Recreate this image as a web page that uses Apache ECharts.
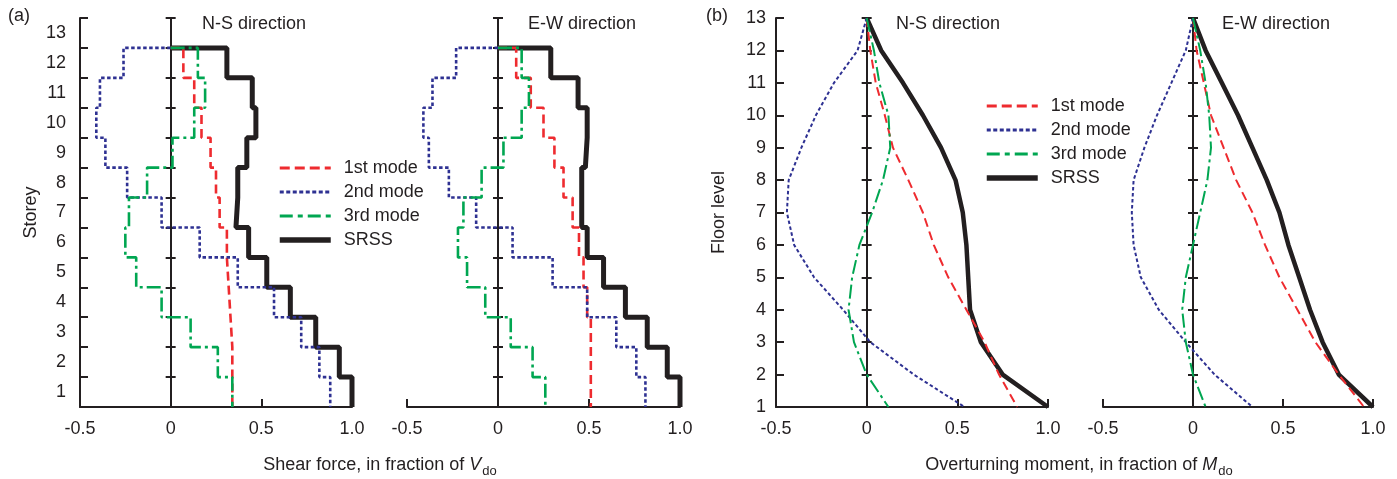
<!DOCTYPE html>
<html>
<head>
<meta charset="utf-8">
<script src="https://cdn.jsdelivr.net/npm/echarts@6/dist/echarts.min.js"></script>
<style>
  html, body { margin: 0; padding: 0; background: #fff; }
  #chart { width: 1397px; height: 479px; }
</style>
</head>
<body>
<div id="chart"></div>
<script>
// storey shear, listed from storey 12 (top) down to storey 1
const storeyLabels = ['1','2','3','4','5','6','7','8','9','10','11','12','13']
const shearNS1 = [0.07, 0.13, 0.17, 0.22, 0.25, 0.27, 0.31, 0.32, 0.33, 0.34, 0.34, 0.34]
const shearNS2 = [-0.26, -0.39, -0.41, -0.36, -0.24, -0.05, 0.16, 0.37, 0.57, 0.72, 0.82, 0.88]
const shearNS3 = [0.15, 0.19, 0.13, 0.01, -0.13, -0.23, -0.25, -0.19, -0.05, 0.11, 0.26, 0.34]
const shearNSsrss = [0.31, 0.45, 0.47, 0.42, 0.37, 0.36, 0.43, 0.53, 0.66, 0.80, 0.93, 1.0]

const shearEW1 = [0.10, 0.18, 0.25, 0.31, 0.36, 0.41, 0.445, 0.47, 0.49, 0.51, 0.51, 0.51]
const shearEW2 = [-0.23, -0.36, -0.41, -0.38, -0.27, -0.12, 0.08, 0.30, 0.49, 0.65, 0.76, 0.81]
const shearEW3 = [0.13, 0.17, 0.13, 0.03, -0.09, -0.19, -0.22, -0.17, -0.07, 0.07, 0.19, 0.26]
const shearEWsrss = [0.29, 0.44, 0.49, 0.48, 0.46, 0.46, 0.49, 0.58, 0.70, 0.82, 0.93, 1.0]

// overturning moment, floor 13 down to floor 1
const floors = [13, 12, 11, 10, 9, 8, 7, 6, 5, 4, 3, 2, 1]
const momNS1 = [0, 0.02, 0.05, 0.10, 0.145, 0.23, 0.31, 0.37, 0.45, 0.55, 0.65, 0.73, 0.83]
const momNS2 = [0, -0.05, -0.18, -0.28, -0.36, -0.43, -0.44, -0.40, -0.29, -0.13, 0.02, 0.26, 0.54]
const momNS3 = [0, 0.04, 0.07, 0.12, 0.13, 0.09, 0.03, -0.04, -0.08, -0.10, -0.07, 0.0, 0.12]
const momNSsrss = [0, 0.08, 0.20, 0.31, 0.41, 0.49, 0.53, 0.55, 0.56, 0.57, 0.63, 0.75, 1.0]

const momEW1 = [0, 0.02, 0.06, 0.10, 0.17, 0.24, 0.33, 0.40, 0.48, 0.58, 0.68, 0.81, 0.95]
const momEW2 = [0, -0.04, -0.12, -0.20, -0.27, -0.33, -0.34, -0.33, -0.29, -0.19, -0.04, 0.12, 0.33]
const momEW3 = [0, 0.04, 0.07, 0.09, 0.10, 0.08, 0.04, 0.0, -0.04, -0.06, -0.04, 0.0, 0.07]
const momEWsrss = [0, 0.07, 0.16, 0.25, 0.33, 0.41, 0.48, 0.53, 0.59, 0.65, 0.72, 0.81, 1.0]

const xTicks = [-0.5, 0, 0.5, 1.0]

const ink = '#231f20'
const red = '#ee2b2f'
const blue = '#2e3192'
const green = '#00a651'
const font = 'Liberation Sans, Arial, sans-serif'
const names = ['1st mode', '2nd mode', '3rd mode', 'SRSS']

// step outline of a storey-shear profile
function stepPath(vals) {
    const top = vals.length
    const pts = [[0, top]]
    vals.forEach((v, i) => {
        pts.push([v, top - i], [v, top - i - 1])
    })
    return pts
}

function profile(vals) {
    return vals.map((v, i) => [v, floors[i]])
}

const grids = [
    { left: 80, top: 18, width: 272, height: 389 },
    { left: 407, top: 18, width: 273, height: 389 },
    { left: 776, top: 18, width: 272, height: 389 },
    { left: 1103, top: 18, width: 270, height: 389 },
].map((g) => Object.assign({ outerBoundsMode: 'none' }, g))

const xAxes = grids.map((g, i) => ({
    type: 'value', gridIndex: i, position: 'bottom', min: -0.5, max: 1, interval: 0.5,
    splitLine: { show: false },
    axisLine: { onZero: false, lineStyle: { color: ink, width: 2 } },
    axisTick: { inside: true, length: 8, lineStyle: { color: ink, width: 2 } },
    axisLabel: {
        color: ink, fontSize: 18, fontFamily: font, margin: 13,
        formatter: (v) => xTicks.indexOf(v) < 0 ? '' : (v === 0 ? '0' : v.toFixed(1)),
    },
}))

function valueY(grid, min, opts) {
    return Object.assign({
        type: 'value', gridIndex: grid, position: 'left', min: min, max: 13, interval: 1,
        splitLine: { show: false },
        axisLabel: { show: false },
        axisLine: { onZero: false, lineStyle: { color: ink, width: 2 } },
        axisTick: { inside: true, length: 8, lineStyle: { color: ink, width: 2 } },
    }, opts)
}

function zeroY(grid, min, inside) {
    return valueY(grid, min, {
        axisLine: { onZero: true, onZeroAxisIndex: grid, lineStyle: { color: ink, width: 2 } },
        axisTick: { inside: inside, length: 5, lineStyle: { color: ink, width: 2 } },
    })
}

const yAxes = []
const seriesY = []
// panel (a) N-S
seriesY.push(yAxes.length)
yAxes.push(valueY(0, 0))
yAxes.push({
    type: 'category', gridIndex: 0, position: 'left', data: storeyLabels,
    axisLine: { show: false, onZero: false }, axisTick: { show: false }, splitLine: { show: false },
    axisLabel: { color: ink, fontSize: 18, fontFamily: font, margin: 14 },
    name: 'Storey', nameLocation: 'middle', nameGap: 40, nameRotate: 90,
    nameTextStyle: { color: ink, fontSize: 18, fontFamily: font },
})
yAxes.push(zeroY(0, 0, true), zeroY(0, 0, false))
// panel (a) E-W
seriesY.push(yAxes.length)
yAxes.push(zeroY(1, 0, true), zeroY(1, 0, false))
// panel (b) N-S
seriesY.push(yAxes.length)
yAxes.push(valueY(2, 1, {
    axisLabel: { color: ink, fontSize: 18, fontFamily: font, margin: 10 },
    name: 'Floor level', nameLocation: 'middle', nameGap: 48, nameRotate: 90,
    nameTextStyle: { color: ink, fontSize: 18, fontFamily: font },
}))
yAxes.push(zeroY(2, 1, true), zeroY(2, 1, false))
// panel (b) E-W
seriesY.push(yAxes.length)
yAxes.push(zeroY(3, 1, true), zeroY(3, 1, false))

function styles(thick) {
    const w = thick ? 2.6 : 2
    return [
        { color: red, width: w, type: [9, 5] },
        { color: blue, width: w, type: [3.5, 2.5] },
        { color: green, width: w, type: [14, 4, 3, 4] },
        { color: ink, width: thick ? 5 : 4.5, type: 'solid' },
    ]
}

const panels = [
    { data: [shearNS1, shearNS2, shearNS3, shearNSsrss].map(stepPath), thick: true },
    { data: [shearEW1, shearEW2, shearEW3, shearEWsrss].map(stepPath), thick: true },
    { data: [momNS1, momNS2, momNS3, momNSsrss].map(profile), thick: false },
    { data: [momEW1, momEW2, momEW3, momEWsrss].map(profile), thick: false },
]

const series = []
panels.forEach((p, pi) => {
    const st = styles(p.thick)
    // SRSS first so the modal lines sit on top
    ;[3, 0, 1, 2].forEach((k) => {
        series.push({
            type: 'line', name: names[k], xAxisIndex: pi, yAxisIndex: seriesY[pi],
            data: p.data[k], showSymbol: false, symbol: 'none',
            lineStyle: st[k], itemStyle: { color: st[k].color, opacity: 0 },
            emphasis: { disabled: true }, z: k === 3 ? 2 : 3,
        })
    })
})

const legendDash = [[10, 5], [4, 2.5], [13, 5, 5, 5], 'solid']

function legendAt(left, top) {
    return {
        orient: 'vertical', left: left, top: top,
        data: names.map((n, k) => ({
            name: n,
            lineStyle: { width: k === 3 ? 5.5 : 3, type: legendDash[k] },
        })),
        itemWidth: 51, itemHeight: 12, itemGap: 6,
        itemStyle: { opacity: 0 },
        textStyle: { color: ink, fontSize: 18, fontFamily: font, padding: [0, 0, 0, 8] },
    }
}

function txt(x, y, text, align) {
    return {
        type: 'text', x: x, y: y,
        style: { text: text, fill: ink, font: '18px ' + font, align: align || 'left', verticalAlign: 'middle' },
    }
}

function richTxt(x, y, lead, sym) {
    return {
        type: 'text', x: x, y: y,
        style: {
            text: '{n|' + lead + '}{v|' + sym + '}{s|do}',
            align: 'center', verticalAlign: 'middle',
            rich: {
                n: { fill: ink, fontSize: 18, fontFamily: font, lineHeight: 24 },
                v: { fill: ink, fontSize: 18, fontFamily: font, fontStyle: 'italic', lineHeight: 24 },
                s: { fill: ink, fontSize: 13, fontFamily: font, lineHeight: 24, padding: [12, 0, 0, 1] },
            },
        },
    }
}

const chart = echarts.init(document.getElementById('chart'), null, { renderer: 'canvas' })
chart.setOption({
    animation: false,
    backgroundColor: '#fff',
    grid: grids,
    xAxis: xAxes,
    yAxis: yAxes,
    legend: [legendAt(272, 154), legendAt(979, 92)],
    series: series,
    graphic: [
        txt(8, 16, '(a)'),
        txt(706, 16, '(b)'),
        txt(202, 24, 'N-S direction'),
        txt(528, 24, 'E-W direction'),
        txt(896, 24, 'N-S direction'),
        txt(1222, 24, 'E-W direction'),
        richTxt(380, 465, 'Shear force, in fraction of ', 'V'),
        richTxt(1079, 465, 'Overturning moment, in fraction of ', 'M'),
    ],
})
</script>
</body>
</html>
